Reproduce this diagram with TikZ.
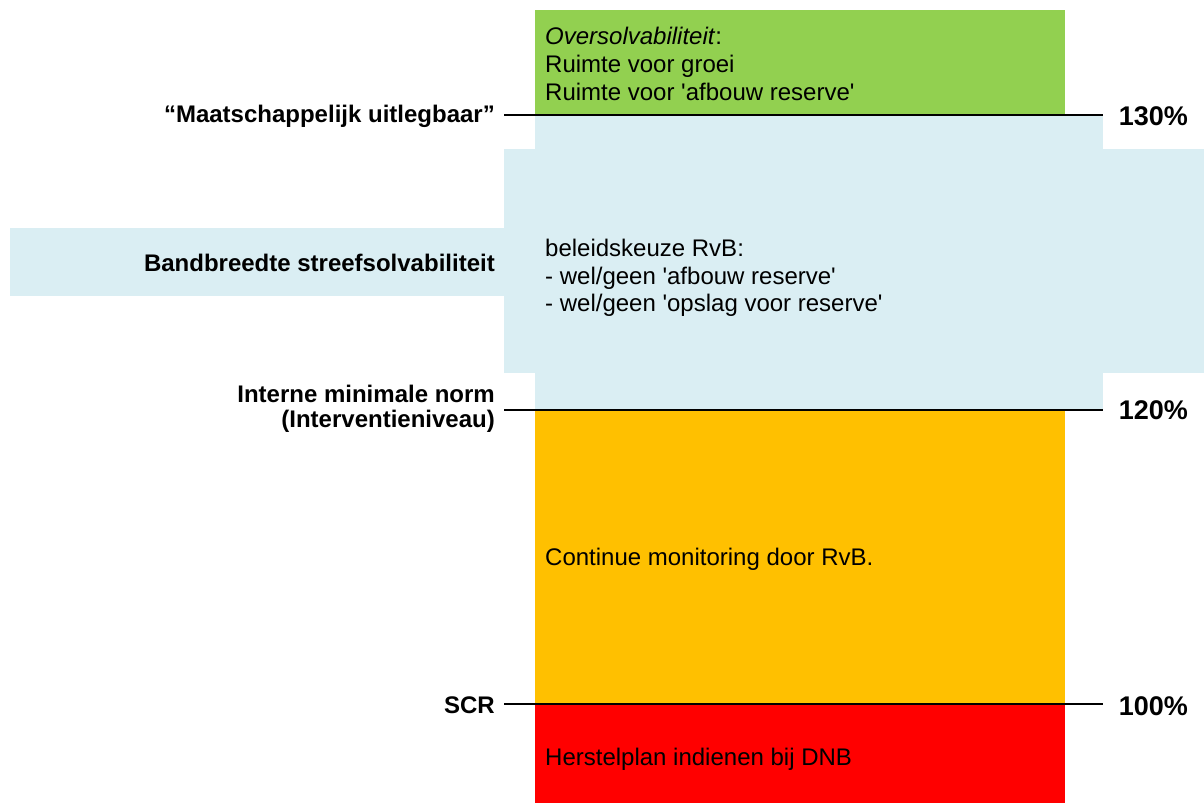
\documentclass[tikz,border=0pt]{standalone}
\usepackage{fontspec}
\setmainfont{Liberation Sans}
\usepackage{xcolor}
\usepackage{tikz}
\definecolor{groen}{HTML}{92D050}
\definecolor{lichtblauw}{HTML}{DAEEF3}
\definecolor{oranje}{HTML}{FFC000}
\definecolor{rood}{HTML}{FF0000}
\newcommand{\aq}{\textquotesingle}
\tikzset{vlak/.style={draw=none},
    niveau/.style={draw,line width=2pt},
    tekst/.style={anchor=west,align=left,inner sep=0pt,
        font=\fontsize{24}{27.6}\selectfont},
    kop/.style={anchor=east,align=right,inner sep=0pt,
        font=\fontsize{24}{25}\selectfont\bfseries},
    pct/.style={anchor=base east,inner sep=0pt,
        font=\fontsize{27}{30}\selectfont\bfseries}}

\begin{document}
\begin{tikzpicture}[x=1pt,y=-1pt]
            \useasboundingbox (0,0) rectangle (1204,803);
            \fill[lichtblauw] (535,115) rectangle (1103,410);
            \fill[lichtblauw] (504,149) rectangle (1204,373);
            \fill[lichtblauw] (10,228) rectangle (504,296);
            \fill[groen] (535,10) rectangle (1065,115);
            \fill[oranje] (535,410) rectangle (1065,704);
            \fill[rood] (535,704) rectangle (1065,803);
            \coordinate (hoog-l) at (504,115);
            \coordinate (hoog-r) at (1103,115);
            \coordinate (norm-l) at (504,410);
            \coordinate (norm-r) at (1103,410);
            \coordinate (scr-l) at (504,704);
            \coordinate (scr-r) at (1103,704);
            \draw[niveau] (hoog-l) -- (hoog-r);
            \draw[niveau] (norm-l) -- (norm-r);
            \draw[niveau] (scr-l) -- (scr-r);
            \node[tekst] (over) at (545,64)
            {\textit{Oversolvabiliteit}:\\Ruimte voor groei\\Ruimte voor \aq afbouw reserve\aq};
            \node[tekst] (keuze) at (545,278)
            {beleidskeuze RvB:\\- wel/geen \aq afbouw reserve\aq\\- wel/geen \aq opslag voor reserve\aq};
            \node[tekst] (monitor) at (545,559)
            {Continue monitoring door RvB.};
            \node[tekst] (herstel) at (545,759)
            {Herstelplan indienen bij DNB};
            \node[kop] (uitleg) at (495,116)
            {“Maatschappelijk uitlegbaar”};
            \node[kop] (band) at (495,263)
            {Bandbreedte streefsolvabiliteit};
            \node[kop] (intern) at (495,409)
            {Interne minimale norm\\(Interventieniveau)};
            \node[kop] (scr) at (495,705)
            {SCR};
            \node[pct] (p130) at (1188,125.5) {130\%};
            \node[pct] (p120) at (1188,419) {120\%};
            \node[pct] (p100) at (1188,715) {100\%};
        \end{tikzpicture}
\end{document}
